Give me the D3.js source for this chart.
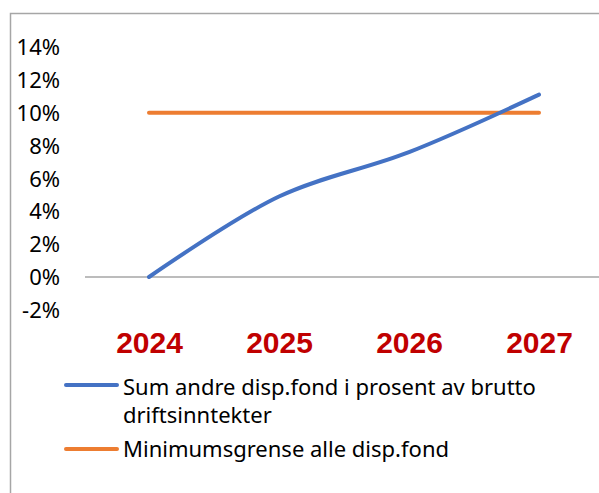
<!DOCTYPE html>
<html lang="no">
    <head>
        <meta charset="utf-8">
        <title>disp.fond</title>
        <script src="https://d3js.org/d3.v7.min.js"></script>
        <style type="text/css">
            body { margin: 0; background: #fff; }
            text { font-family: "Noto Sans", sans-serif; }
        </style>
    </head>
    <body>
        <script type="text/javascript">
            // data
            var years = ["2024", "2025", "2026", "2027"];
            var sumAndre = [0.0, 4.9, 7.6, 11.1];
            var minGrense = [10, 10, 10, 10];
            var yTicks = [-2, 0, 2, 4, 6, 8, 10, 12, 14];
            var legendNames = ["Sum andre disp.fond i prosent av brutto driftsinntekter", "Minimumsgrense alle disp.fond"];

            var svgWidth = 599, svgHeight = 493;

            var svg = d3.select("body").append("svg")
                .attr("width", svgWidth)
                .attr("height", svgHeight);

            // chart frame (top + left edge visible)
            svg.append("path")
                .attr("d", "M10.5," + svgHeight + "V13.5H" + svgWidth)
                .attr("fill", "none")
                .attr("stroke", "#a6a6a6")
                .attr("stroke-width", 1.5);

            var x = d3.scalePoint().domain(years).range([149, 539]);
            var y = d3.scaleLinear().domain([0, 14]).range([277, 47]);

            // y axis labels
            var yAxis = d3.axisLeft(y).tickValues(yTicks)
                .tickFormat(function(d) { return d + "%"; })
                .tickSize(0).tickPadding(0);
            var gy = svg.append("g").attr("transform", "translate(60,0)").call(yAxis);
            gy.select(".domain").remove();
            gy.selectAll("text")
                .attr("dy", "0.35em")
                .style("font-family", "'Noto Sans', sans-serif")
                .style("font-size", "22px")
                .style("fill", "#000");

            // zero line
            svg.append("line")
                .attr("x1", 85).attr("x2", svgWidth)
                .attr("y1", y(0)).attr("y2", y(0))
                .attr("stroke", "#a6a6a6").attr("stroke-width", 1.5);

            // x axis category labels
            var xAxis = d3.axisBottom(x).tickSize(0).tickPadding(0);
            var gx = svg.append("g").attr("transform", "translate(0,353)").call(xAxis);
            gx.select(".domain").remove();
            gx.selectAll("text")
                .attr("dy", 0)
                .style("font-family", "'Liberation Sans', Arial, sans-serif")
                .style("font-size", "30px")
                .style("font-weight", "bold")
                .style("fill", "#c00000");

            var line = d3.line()
                .x(function(d, i) { return x(years[i]); })
                .y(function(d) { return y(d); });

            svg.append("path")
                .datum(minGrense)
                .attr("d", line)
                .attr("fill", "none")
                .attr("stroke", "#ed7d31")
                .attr("stroke-width", 4)
                .attr("stroke-linecap", "round");

            svg.append("path")
                .datum(sumAndre)
                .attr("d", line.curve(d3.curveCatmullRom.alpha(0.5)))
                .attr("fill", "none")
                .attr("stroke", "#4472c4")
                .attr("stroke-width", 4)
                .attr("stroke-linecap", "round");

            // legend
            var legend = svg.append("g");
            legend.append("line").attr("x1", 66).attr("x2", 117).attr("y1", 385).attr("y2", 385)
                .attr("stroke", "#4472c4").attr("stroke-width", 4).attr("stroke-linecap", "round");
            legend.append("text").attr("x", 123).attr("y", 395).style("font-size", "22px")
                .text("Sum andre disp.fond i prosent av brutto");
            legend.append("text").attr("x", 123).attr("y", 423).style("font-size", "22px")
                .text("driftsinntekter");
            legend.append("line").attr("x1", 66).attr("x2", 117).attr("y1", 449).attr("y2", 449)
                .attr("stroke", "#ed7d31").attr("stroke-width", 4).attr("stroke-linecap", "round");
            legend.append("text").attr("x", 123).attr("y", 457).style("font-size", "22px")
                .text(legendNames[1]);
        </script>
    </body>
</html>
